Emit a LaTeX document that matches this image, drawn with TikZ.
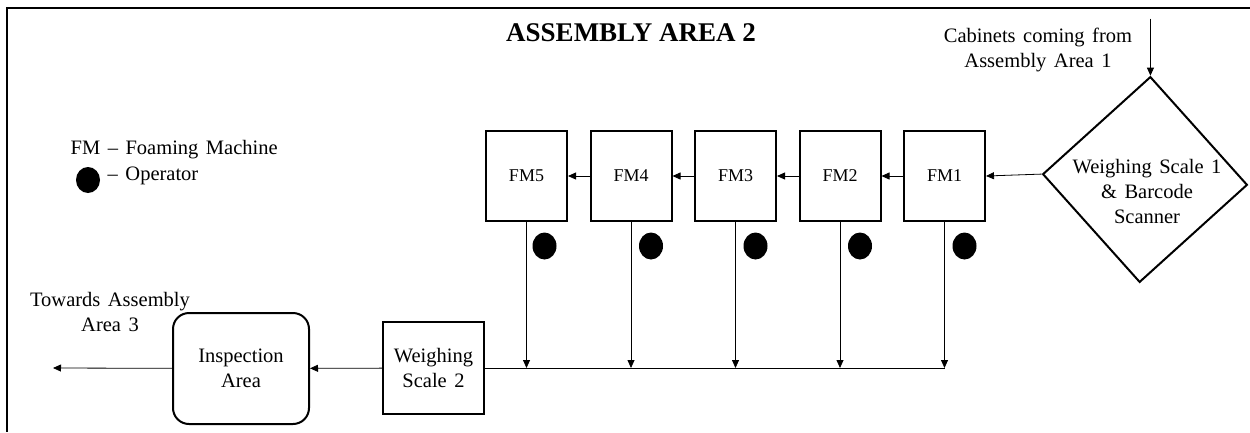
\documentclass[tikz,border=0pt]{standalone}
\usepackage{fontspec}
\setmainfont{Liberation Serif}
\usetikzlibrary{shapes.geometric,arrows.meta}
\newcommand\widespace{\spaceskip=7.5pt plus 2pt minus 1pt\relax}
\tikzset{>={Triangle[length=8pt,width=7pt]},
  fmbox/.style={draw,line width=2pt,minimum width=81pt,minimum height=90pt,font=\fontsize{18}{22}\selectfont},
  wsbox/.style={draw,line width=2pt,minimum width=101pt,minimum height=92pt,align=center},
  inspbox/.style={draw,line width=2pt,rounded corners=16pt,minimum width=136pt,minimum height=111pt,align=center},
  scalebox/.style={diamond,draw,line width=2pt,minimum width=205pt,minimum height=206pt,inner sep=0pt,rotate=-3},
  operator/.style={ellipse,fill=black,minimum width=24pt,minimum height=27pt,inner sep=0pt}}
\begin{document}
\begin{tikzpicture}[x=1pt,y=-1pt,node distance=104.5pt,line width=0.8pt,
    every node/.style={font=\fontsize{20.5}{25}\selectfont\widespace}]
      \useasboundingbox (0,0) rectangle (1250,432);
      \draw [line width=1.5pt] (1250,8) -- (7,8) -- (7,432);
      \node [font=\bfseries\fontsize{27}{32}\selectfont] (title) at (631,33) {ASSEMBLY AREA 2};
      \node [align=center] (cabtxt) at (1038,50) {Cabinets coming from\\Assembly Area 1};
      \node [scalebox] (ws1) at (1145,179.5) {};
      \coordinate (cabin) at ([yshift=57pt]ws1.north);
      \node [align=center] (ws1txt) at (1147,191) {Weighing Scale 1\\\& Barcode\\Scanner};
      \node [fmbox] (fm1) at (944.5,176) {FM1};
      \node [fmbox, left of=fm1] (fm2) {FM2};
      \node [fmbox, left of=fm2] (fm3) {FM3};
      \node [fmbox, left of=fm3] (fm4) {FM4};
      \node [fmbox, left of=fm4] (fm5) {FM5};
      \node [operator] (op1) at ([xshift=20pt,yshift=-24pt]fm1.south) {};
      \node [operator] (op2) at ([xshift=20pt,yshift=-24pt]fm2.south) {};
      \node [operator] (op3) at ([xshift=20pt,yshift=-24pt]fm3.south) {};
      \node [operator] (op4) at ([xshift=20pt,yshift=-24pt]fm4.south) {};
      \node [operator] (op5) at ([xshift=18pt,yshift=-24pt]fm5.south) {};
      \node [wsbox] (ws2) at (433.5,368) {Weighing\\Scale 2};
      \node [inspbox] (insp) at (241,368.5) {Inspection\\Area};
      \node [align=center] (towtxt) at (110,312) {Towards Assembly\\Area 3};
      \coordinate (out) at (53,368);
      \node [anchor=west] (legfm) at (67,150) {FM \textendash{} Foaming Machine};
      \node [operator, minimum height=26pt] (legop) at (88,180) {};
      \node [anchor=west] (legtxt) at (104,176) {\textendash{} Operator};
      \coordinate (j1) at (fm1.south |- ws2.east);
      \coordinate (j2) at (fm2.south |- ws2.east);
      \coordinate (j3) at (fm3.south |- ws2.east);
      \coordinate (j4) at (fm4.south |- ws2.east);
      \coordinate (j5) at (fm5.south |- ws2.east);
      \draw [->] (cabin) to (ws1.north);
      \draw [->] (ws1.west) to (fm1.east);
      \draw [->] (fm1) to (fm2);
      \draw [->] (fm2) to (fm3);
      \draw [->] (fm3) to (fm4);
      \draw [->] (fm4) to (fm5);
      \draw [->] (fm1) to (j1);
      \draw [->] (fm2) to (j2);
      \draw [->] (fm3) to (j3);
      \draw [->] (fm4) to (j4);
      \draw [->] (fm5) to (j5);
      \draw (ws2.east) to (j1);
      \draw [->] (ws2) to (insp);
      \draw [->] (insp) to (out);
      \end{tikzpicture}
\end{document}
